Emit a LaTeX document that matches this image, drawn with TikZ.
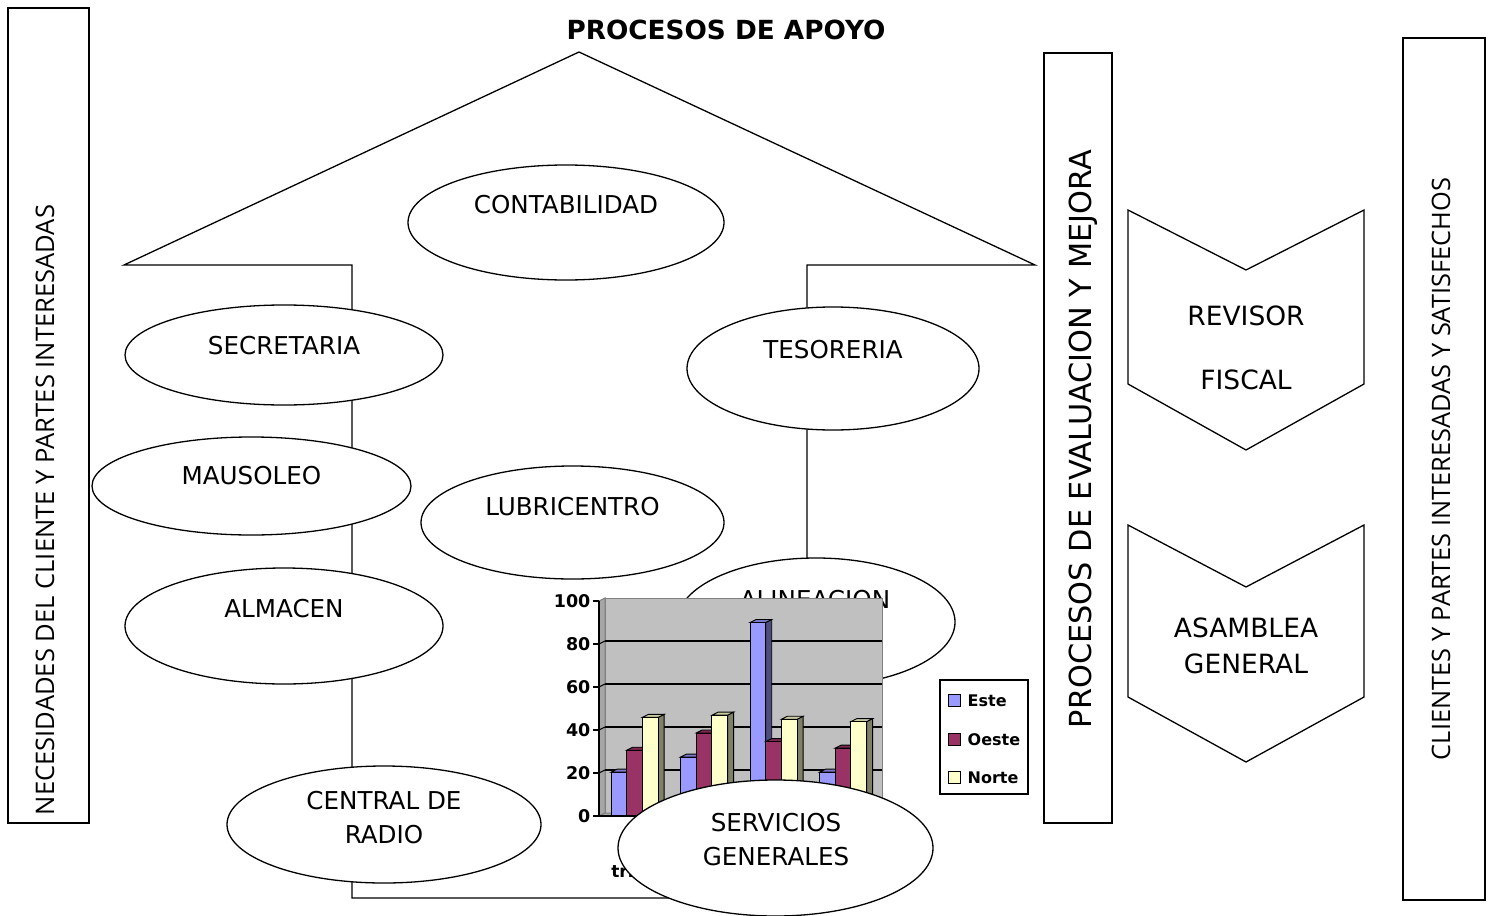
\documentclass[tikz,border=0pt]{standalone}
\usepackage{fontspec}
\usepackage{graphicx}
\setmainfont{DejaVu Sans}
\newfontfamily\opensans{Open Sans}
\usetikzlibrary{shapes.geometric}
\definecolor{esteF}{HTML}{9999FF}
\definecolor{esteT}{HTML}{7A7ACC}
\definecolor{esteS}{HTML}{4D4D80}
\definecolor{oesteF}{HTML}{993366}
\definecolor{oesteT}{HTML}{7A2952}
\definecolor{oesteS}{HTML}{4D1A33}
\definecolor{norteF}{HTML}{FFFFCC}
\definecolor{norteT}{HTML}{CCCCA3}
\definecolor{norteS}{HTML}{808066}
\definecolor{wallG}{HTML}{C0C0C0}
\definecolor{sideG}{HTML}{A6A6A6}
\definecolor{edgeG}{HTML}{808080}
\tikzset{
  ell/.style={draw, ellipse, fill=white, inner sep=0pt, line width=1.3pt},
  etxt/.style={font=\fontsize{24.6}{34}\selectfont, align=center, inner sep=0pt},
  chtxt/.style={font=\fontsize{26.5}{36}\selectfont, align=center, inner sep=0pt},
  tallbox/.style={draw, line width=1.4pt, inner sep=0pt},
  axlbl/.style={font=\bfseries\fontsize{17.5}{22}\selectfont, anchor=east, inner sep=0pt},
  catlbl/.style={font=\bfseries\fontsize{17}{24}\selectfont, align=center, inner sep=0pt},
  leglbl/.style={font=\bfseries\fontsize{16}{20}\selectfont, anchor=west, inner sep=0pt},
  swatch/.style={draw, line width=1pt, minimum width=12pt, minimum height=12pt, inner sep=0pt},
}
\begin{document}
\begin{tikzpicture}[x=1pt,y=-1pt,line width=1.3pt]
\useasboundingbox (0,0) rectangle (1490,915);
\fill[white] (0,0) rectangle (1490,915);

% left box
\node[tallbox, minimum width=81pt, minimum height=815pt] (leftbox) at (48.5,415.5) {};
\node[rotate=90, inner sep=0pt] (necesidades) at (45,510) {\resizebox{610pt}{!}{\opensans NECESIDADES DEL CLIENTE Y PARTES INTERESADAS}};

% title
\node[font=\bfseries\fontsize{26.3}{30}\selectfont, inner sep=0pt] (titulo) at (726,30) {PROCESOS DE APOYO};

% house
\draw (352,898) -- (352,265) -- (124,265) -- (579,52) -- (1035,265) -- (807,265) -- (807,898) -- cycle;

% ellipses
\node[ell, minimum width=316pt, minimum height=115pt] (contab) at (566,222.5) {};
\node[etxt] (contabT) at (566,205) {CONTABILIDAD};
\node[ell, minimum width=318pt, minimum height=100pt] (secre) at (284,355) {};
\node[etxt] (secreT) at (284,346) {SECRETARIA};
\node[ell, minimum width=292pt, minimum height=123pt] (teso) at (833,368.5) {};
\node[etxt] (tesoT) at (833,350) {TESORERIA};
\node[ell, minimum width=319pt, minimum height=98pt] (mauso) at (251.5,486) {};
\node[etxt] (mausoT) at (251.5,476) {MAUSOLEO};
\node[ell, minimum width=303pt, minimum height=113pt] (lubri) at (572.5,522.5) {};
\node[etxt] (lubriT) at (572.5,507) {LUBRICENTRO};
\node[ell, minimum width=318pt, minimum height=116pt] (almacen) at (284,626) {};
\node[etxt] (almacenT) at (284,609) {ALMACEN};
\node[ell, minimum width=278pt, minimum height=128pt] (alin) at (816,622) {};
\node[etxt] (alinT) at (815,600) {ALINEACION};
\node[ell, minimum width=314pt, minimum height=117pt] (radio) at (384,824.5) {};
\node[etxt] (radioT) at (384,818) {CENTRAL DE\\RADIO};

% chart
\filldraw[fill=wallG, draw=edgeG, line width=1pt] (605,598) rectangle (882,813);
\filldraw[fill=sideG, draw=edgeG, line width=1pt] (599,601) -- (605,598) -- (605,813) -- (599,816) -- cycle;
\filldraw[fill=sideG, draw=edgeG, line width=1pt] (599,816) -- (605,813) -- (882,813) -- (876,816) -- cycle;
\foreach \v in {20,40,60,80} {
  \draw[line width=1.2pt] (605,{816-2.15*\v-3}) -- (882,{816-2.15*\v-3});
  \draw[line width=1pt] (599,{816-2.15*\v}) -- (605,{816-2.15*\v-3});
}
\foreach \x/\v/\c in {611/20.4/este,626.7/30.6/oeste,642.4/45.9/norte,
                      680.5/27.4/este,696.2/38.6/oeste,711.9/46.9/norte,
                      750/90/este,765.7/34.6/oeste,781.4/45/norte,
                      819.5/20.4/este,835.2/31.6/oeste,850.9/43.9/norte} {
  \filldraw[fill=\c S, draw=black, line width=0.9pt] (\x+15.7,816) -- (\x+21.7,813) -- (\x+21.7,{816-2.15*\v-3}) -- (\x+15.7,{816-2.15*\v}) -- cycle;
  \filldraw[fill=\c T, draw=black, line width=0.9pt] (\x,{816-2.15*\v}) -- (\x+6,{816-2.15*\v-3}) -- (\x+21.7,{816-2.15*\v-3}) -- (\x+15.7,{816-2.15*\v}) -- cycle;
  \filldraw[fill=\c F, draw=black, line width=0.9pt] (\x,816) rectangle (\x+15.7,{816-2.15*\v});
}
\draw[line width=1.6pt] (599,601) -- (599,816) -- (876,816);
\foreach \v in {0,20,40,60,80,100} {
  \draw[line width=1.4pt] (593,{816-2.15*\v}) -- (599,{816-2.15*\v});
  \node[axlbl] (ax\v) at (591,{816-2.15*\v}) {\v};
}
\node[catlbl] (cat1) at (634.5,859) {1er\\trim.};
% legend
\node[draw, line width=1.4pt, minimum width=88pt, minimum height=114pt, inner sep=0pt] (legend) at (984,737) {};
\node[swatch, fill=esteF] (sw1) at (954,700) {};
\node[leglbl] (lg1) at (967,701) {Este};
\node[swatch, fill=oesteF] (sw2) at (954,739) {};
\node[leglbl] (lg2) at (967,740) {Oeste};
\node[swatch, fill=norteF] (sw3) at (954,777) {};
\node[leglbl] (lg3) at (967,778) {Norte};

% servicios generales on top
\node[ell, minimum width=315pt, minimum height=136pt] (serv) at (775.5,848) {};
\node[etxt] (servT) at (776,840) {SERVICIOS\\GENERALES};

% evaluacion box
\node[tallbox, minimum width=68pt, minimum height=770pt] (evalbox) at (1078,438) {};
\node[rotate=90, inner sep=0pt] (evalT) at (1083,439) {\resizebox{578pt}{!}{PROCESOS DE EVALUACION Y MEJORA}};

% chevrons
\draw (1128,210) -- (1246,270) -- (1364,210) -- (1364,384) -- (1246,450) -- (1128,384) -- cycle;
\node[chtxt] (revT1) at (1246,316) {REVISOR};
\node[chtxt] (revT2) at (1246,380) {FISCAL};
\draw (1128,525) -- (1246,587) -- (1364,525) -- (1364,697) -- (1246,762) -- (1128,697) -- cycle;
\node[chtxt] (asaT) at (1246,646) {ASAMBLEA\\GENERAL};

% clientes box
\node[tallbox, minimum width=82pt, minimum height=862pt] (clibox) at (1444,469) {};
\node[rotate=90, inner sep=0pt] (cliT) at (1441,469) {\resizebox{582pt}{!}{\opensans CLIENTES Y PARTES INTERESADAS Y SATISFECHOS}};
\end{tikzpicture}
\end{document}
